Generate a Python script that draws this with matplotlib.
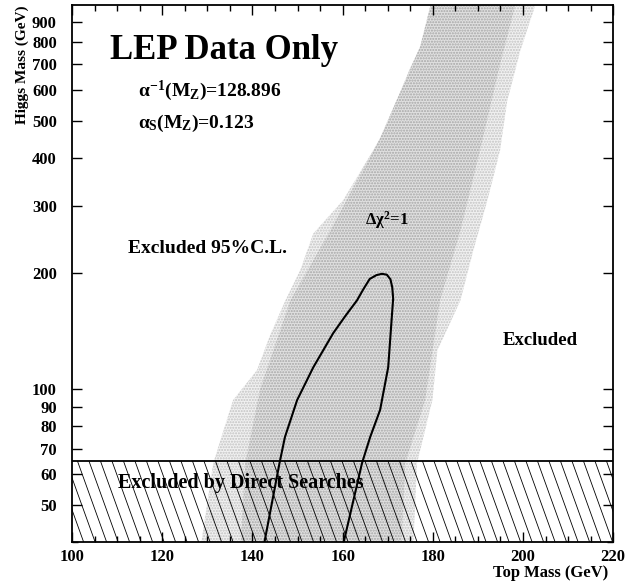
import numpy as np
import matplotlib
matplotlib.use("Agg")
import matplotlib.pyplot as plt
from matplotlib.collections import LineCollection
from matplotlib.ticker import FixedLocator, NullFormatter

plt.rcParams["font.family"] = ["Liberation Serif", "DejaVu Serif"]
plt.rcParams["font.weight"] = "bold"
plt.rcParams["mathtext.fontset"] = "custom"
plt.rcParams["mathtext.rm"] = "Liberation Serif:bold"
plt.rcParams["mathtext.it"] = "Liberation Serif:bold"
plt.rcParams["mathtext.bf"] = "Liberation Serif:bold"

########## Data ##########

# 95% C.L. allowed band (outer edge)
band_left_top = [128.4, 131.3, 135.7, 141.0, 143.9, 147.3, 150.6, 153.5, 160.1, 169.0, 175.0, 180.1, 181.6]
band_left_higgs = [38, 64.2, 93.6, 112, 138, 170, 204, 254, 310, 462, 686, 909, 1000]
band_right_top = [175.6, 176.5, 179.9, 181.0, 186.1, 189.0, 192.1, 194.9, 196.5, 199.4, 202.3, 202.7]
band_right_higgs = [38, 64.2, 93.6, 126, 170, 230, 310, 418, 563, 760, 964, 1000]

# darker core of the band
core_left_top = [137.3, 138.4, 141.7, 148.4, 157.2, 168.3, 177.2, 179.5]
core_left_higgs = [38, 64.2, 100, 170, 258, 450, 780, 1000]
core_right_top = [173.0, 173.9, 178.3, 181.6, 186.1, 190.5, 194.9, 198.3]
core_right_higgs = [38, 64.2, 93.6, 170, 258, 420, 700, 1000]

# Delta chi^2 = 1 contour
contour_top = [142.3, 146.0, 147.2, 149.9, 153.5, 157.9, 160.6, 163.2, 164.6, 166.0,
               167.5, 168.7, 169.8, 170.6, 171.0, 171.2, 170.9, 170.1, 168.3,
               166.1, 164.3, 159.8]
contour_higgs = [38, 64.2, 75, 93.6, 114, 139.8, 155, 170.3, 182, 193.5,
                 198, 199.5, 198.5, 193, 184, 172, 154, 114, 88.2,
                 75, 64.2, 38]

# direct search limit
direct_limit = 65

x_ticks = [100, 120, 140, 160, 180, 200, 220]
x_minor = list(range(100, 221, 5))
y_ticks = [50, 60, 70, 80, 90, 100, 200, 300, 400, 500, 600, 700, 800, 900]
y_minor = [40]

xmin, xmax = 100, 220
ymin, ymax = 40, 1000

########## Plot ##########

fig = plt.figure(figsize=(6.27, 5.87), dpi=100)
ax = fig.add_axes([0.115, 0.0767, 0.863, 0.915])
ax.set_yscale("log")
ax.set_xlim(xmin, xmax)
ax.set_ylim(ymin, ymax)

# stippled band
band_x = band_left_top + band_right_top[::-1]
band_y = band_left_higgs + band_right_higgs[::-1]
ax.fill(band_x, band_y, facecolor="#f1f1f1", edgecolor="#c2c2c2",
        hatch="......", linewidth=0, zorder=1)
core_x = core_left_top + core_right_top[::-1]
core_y = core_left_higgs + core_right_higgs[::-1]
ax.fill(core_x, core_y, facecolor="#e0e0e0", edgecolor="#a6a6a6",
        hatch="......", linewidth=0, zorder=1.5)

# hatched direct-search exclusion, steep lines drawn in axes fraction
h_top = np.log(direct_limit / ymin) / np.log(ymax / ymin)
ax_w = 0.863 * 627
ax_h = 0.915 * 587
slope = 0.36 * (h_top * ax_h) / ax_w
spacing = 11.5 / ax_w
starts = np.arange(-slope, 1.0 + spacing, spacing)
segs = [[(s, h_top), (s + slope, 0)] for s in starts]
lc = LineCollection(segs, colors="black", linewidths=0.6,
                    transform=ax.transAxes, zorder=2)
ax.add_collection(lc)
ax.axhline(direct_limit, color="black", linewidth=1.3, zorder=3)

# contour
ax.plot(contour_top, contour_higgs, color="black", linewidth=1.5, zorder=4)

# ticks
ax.xaxis.set_major_locator(FixedLocator(x_ticks))
ax.xaxis.set_minor_locator(FixedLocator(x_minor))
ax.yaxis.set_major_locator(FixedLocator(y_ticks))
ax.yaxis.set_minor_locator(FixedLocator(y_minor))
ax.yaxis.set_minor_formatter(NullFormatter())
ax.set_yticklabels([str(v) for v in y_ticks])
ax.set_xticklabels([str(v) for v in x_ticks])
ax.tick_params(which="both", direction="in", top=True, right=True,
               labelsize=12, width=1)
ax.tick_params(which="major", length=7)
ax.tick_params(which="minor", length=4)
ax.tick_params(axis="y", pad=11)
ax.tick_params(axis="x", pad=5)
for lab in ax.get_xticklabels() + ax.get_yticklabels():
    lab.set_fontweight("bold")
for sp in ax.spines.values():
    sp.set_linewidth(1.3)

# texts
ax.text(108.4, 760, "LEP Data Only", fontsize=25, fontweight="bold",
        ha="left", va="center", zorder=5)
ax.text(114.6, 598, r"$\alpha^{-1}(M_Z)$=128.896", fontsize=14,
        fontweight="bold", ha="left", va="center", zorder=5)
ax.text(114.6, 490, r"$\alpha_S(M_Z)$=0.123", fontsize=14,
        fontweight="bold", ha="left", va="center", zorder=5)
ax.text(112.4, 232, "Excluded 95%C.L.", fontsize=14, fontweight="bold",
        ha="left", va="center", zorder=5)
ax.text(165.0, 275, r"$\Delta\chi^2$=1", fontsize=12, fontweight="bold",
        ha="left", va="center", zorder=5)
ax.text(195.4, 134, "Excluded", fontsize=13.5, fontweight="bold",
        ha="left", va="center", zorder=5)
ax.text(110.2, 57, "Excluded by Direct Searches", fontsize=14.5,
        fontweight="bold", ha="left", va="center", zorder=5)

fig.text(22 / 627, 1 - 5 / 587, "Higgs Mass (GeV)", rotation=90,
         ha="center", va="top", fontsize=11, fontweight="bold")
fig.text(608 / 627, 1 - 573 / 587, "Top Mass (GeV)", ha="right",
         va="center", fontsize=12, fontweight="bold")

fig.savefig("out.png", dpi=100)
